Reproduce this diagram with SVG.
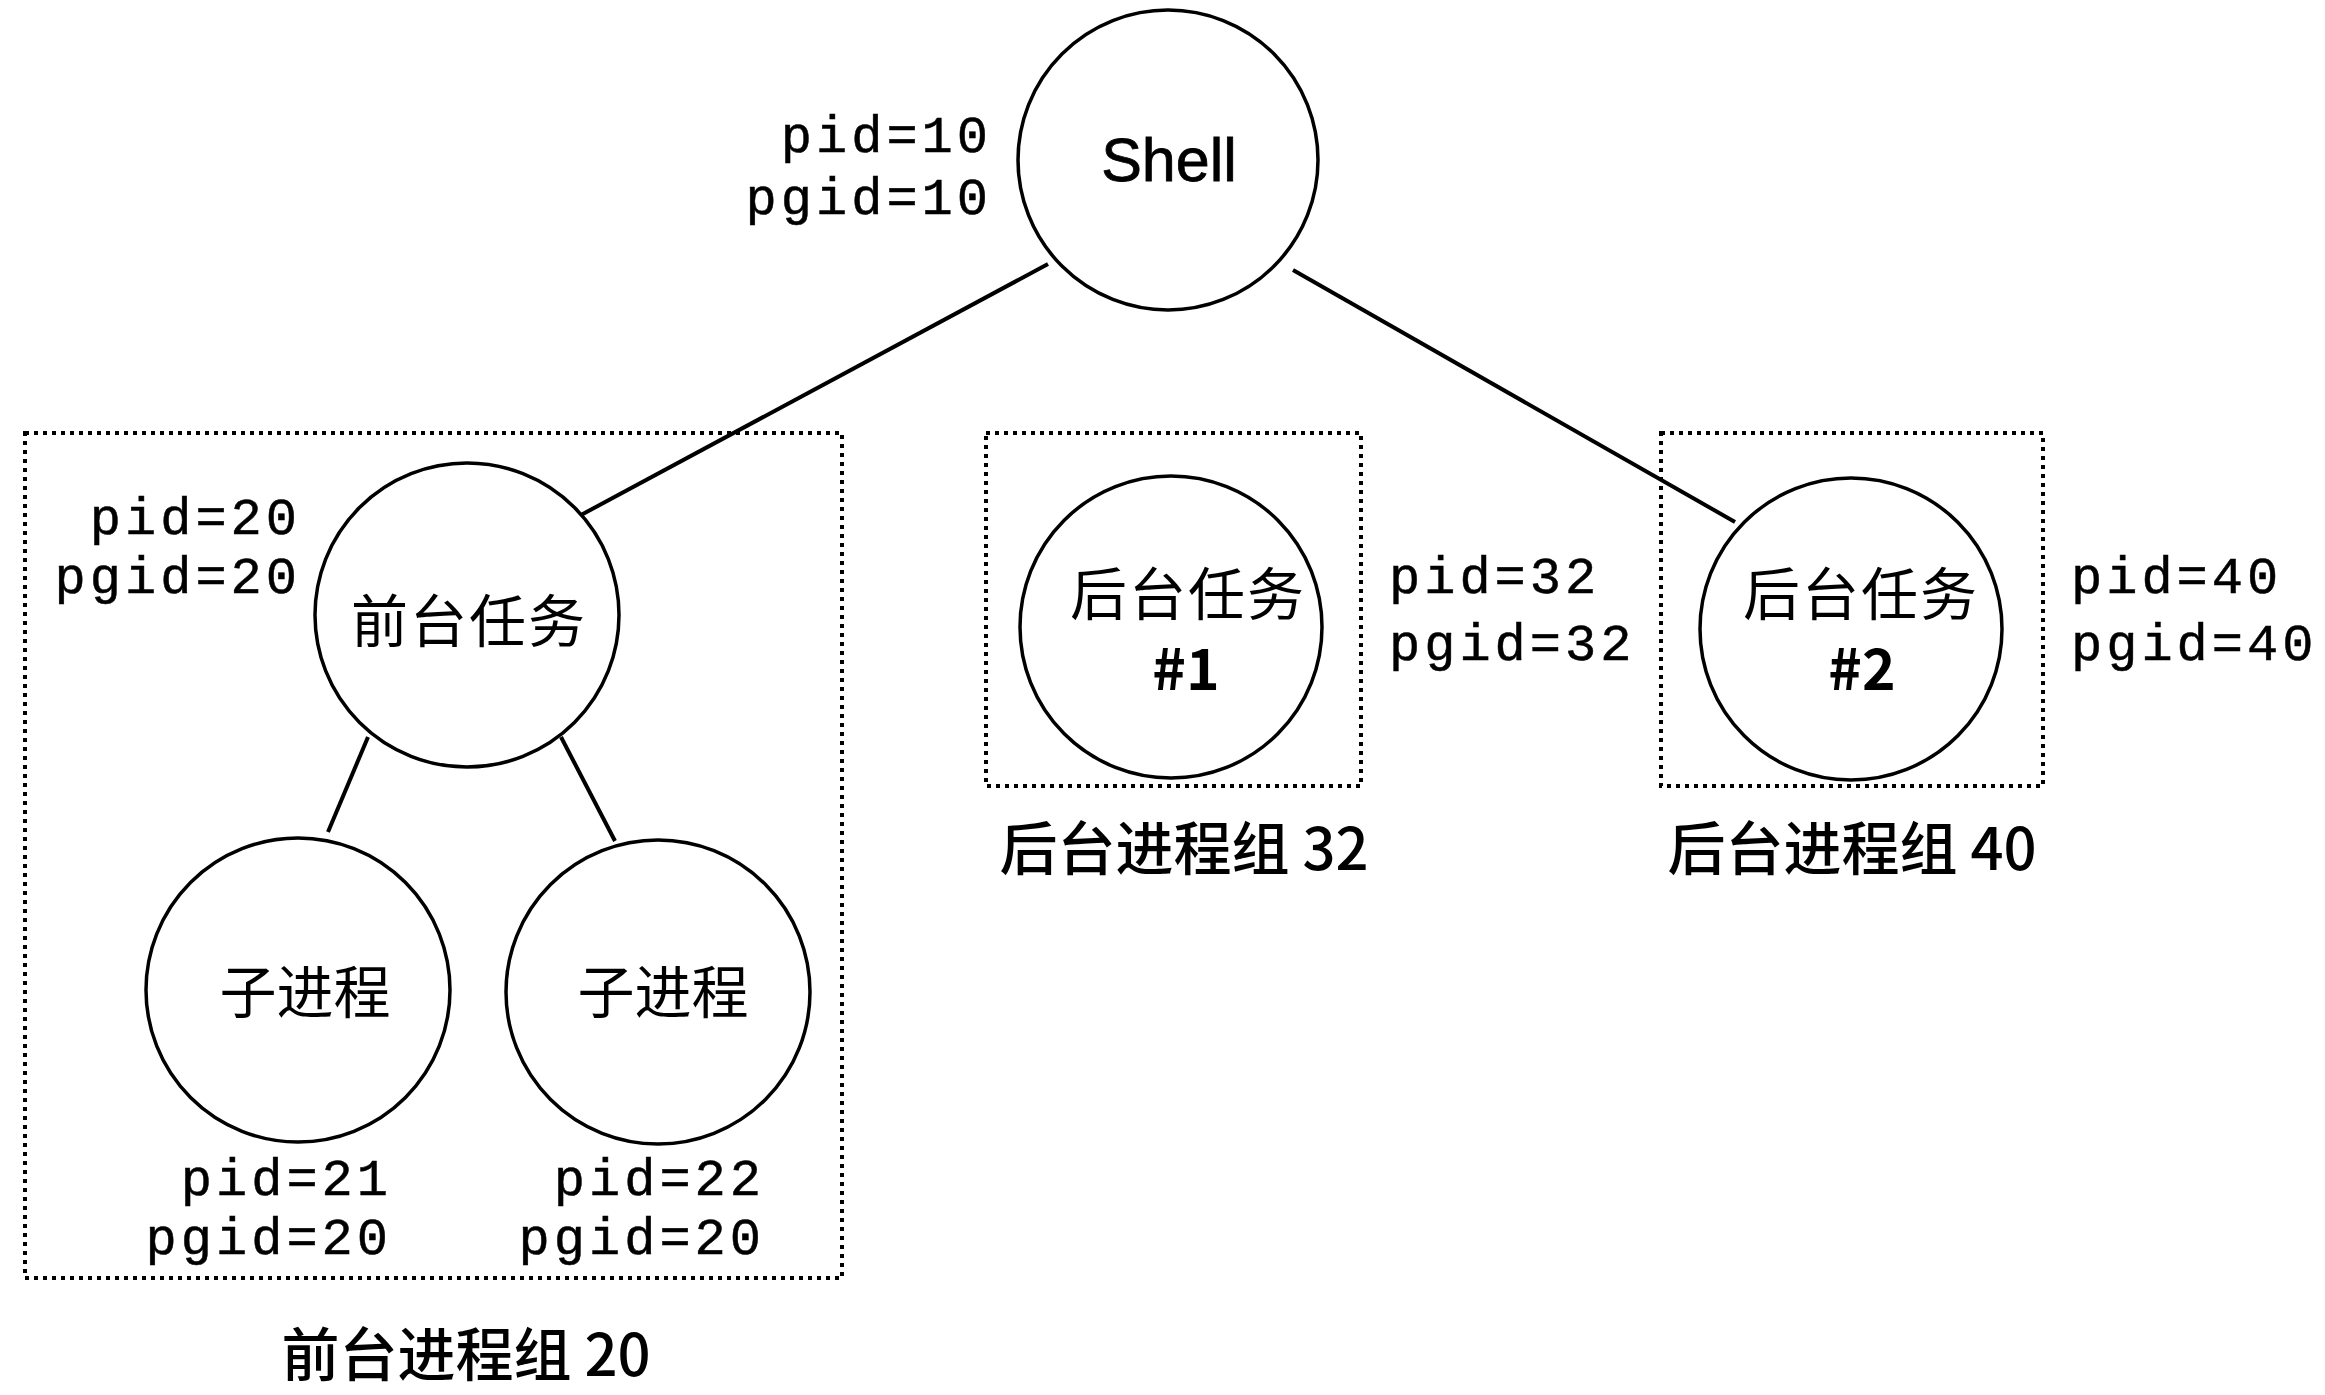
<svg xmlns="http://www.w3.org/2000/svg" width="2325" height="1395" viewBox="0 0 2325 1395">
<style>
.node{fill:#fff;stroke:#000;stroke-width:3.5}
.grp{fill:none;stroke:#000;stroke-width:4;stroke-dasharray:4 5}
.conn{stroke:#000;stroke-width:4;fill:none}
.mono{font-family:"Liberation Mono","DejaVu Sans Mono",monospace;font-size:52px;letter-spacing:4px;fill:#000;stroke:#000;stroke-width:0.5}
.cjk{font-family:"Noto Sans CJK SC",sans-serif;font-size:57px;fill:#000}
.lbl{font-family:"Noto Sans CJK SC",sans-serif;font-size:58px;fill:#000;font-weight:500}
.sans{font-family:"Liberation Sans",Arial,sans-serif;font-size:61px;fill:#000;stroke:#000;stroke-width:0.8}
</style>
<rect width="2325" height="1395" fill="#fff"/>
<g id="connectors">
<line class="conn" x1="1048" y1="264" x2="581" y2="515"/>
<line class="conn" x1="1293" y1="270" x2="1735" y2="522"/>
<line class="conn" x1="368" y1="737" x2="328" y2="832"/>
<line class="conn" x1="561" y1="737" x2="615" y2="841"/>
</g>
<g id="group-fg">
<rect class="grp" x="25" y="433" width="817" height="845"/>
<text class="lbl" x="466" y="1376" text-anchor="middle">前台进程组 20</text>
</g>
<g id="group-bg32">
<rect class="grp" x="986" y="433" width="375" height="353"/>
<text class="lbl" x="1184" y="870" text-anchor="middle">后台进程组 32</text>
</g>
<g id="group-bg40">
<rect class="grp" x="1661" y="433" width="382" height="353"/>
<text class="lbl" x="1852" y="870" text-anchor="middle">后台进程组 40</text>
</g>
<g id="shell">
<circle class="node" cx="1168" cy="160" r="150"/>
<text class="sans" x="1169" y="181" text-anchor="middle">Shell</text>
<text class="mono" x="992" y="152" text-anchor="end">pid=10</text>
<text class="mono" x="992" y="214" text-anchor="end">pgid=10</text>
</g>
<g id="fg-job">
<circle class="node" cx="467" cy="615" r="152"/>
<text class="cjk" x="469" y="642" text-anchor="middle" letter-spacing="2">前台任务</text>
<text class="mono" x="301" y="534" text-anchor="end">pid=20</text>
<text class="mono" x="301" y="593" text-anchor="end">pgid=20</text>
</g>
<g id="child21">
<circle class="node" cx="298" cy="990" r="152"/>
<text class="cjk" x="305" y="1013" text-anchor="middle">子进程</text>
<text class="mono" x="392" y="1195" text-anchor="end">pid=21</text>
<text class="mono" x="392" y="1254" text-anchor="end">pgid=20</text>
</g>
<g id="child22">
<circle class="node" cx="658" cy="992" r="152"/>
<text class="cjk" x="663" y="1013" text-anchor="middle">子进程</text>
<text class="mono" x="765" y="1195" text-anchor="end">pid=22</text>
<text class="mono" x="765" y="1254" text-anchor="end">pgid=20</text>
</g>
<g id="bg-job1">
<circle class="node" cx="1171" cy="627" r="151"/>
<text class="cjk" x="1188" y="615" text-anchor="middle" letter-spacing="2">后台任务</text>
<text class="cjk" x="1186" y="690" text-anchor="middle" font-weight="700">#1</text>
<text class="mono" x="1389" y="593">pid=32</text>
<text class="mono" x="1389" y="660">pgid=32</text>
</g>
<g id="bg-job2">
<circle class="node" cx="1851" cy="629" r="151"/>
<text class="cjk" x="1861" y="615" text-anchor="middle" letter-spacing="2">后台任务</text>
<text class="cjk" x="1862" y="690" text-anchor="middle" font-weight="700">#2</text>
<text class="mono" x="2071" y="593">pid=40</text>
<text class="mono" x="2071" y="660">pgid=40</text>
</g>
</svg>
